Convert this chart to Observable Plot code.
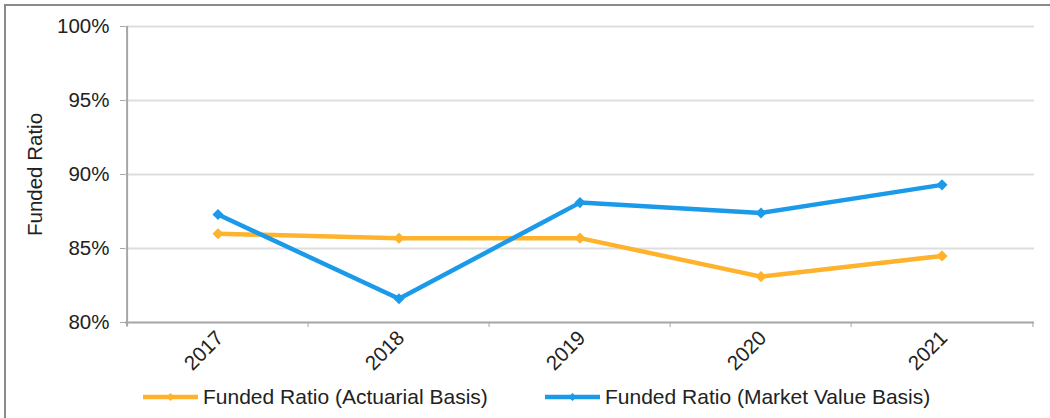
<!DOCTYPE html>
<html>
<head>
<meta charset="utf-8">
<script src="https://cdn.jsdelivr.net/npm/d3@7"></script>
<script src="https://cdn.jsdelivr.net/npm/@observablehq/plot@0.6"></script>
<style>
  html, body { margin: 0; padding: 0; background: #fff; }
  body { width: 1050px; height: 418px; overflow: hidden; position: relative; font-family: "Liberation Sans", Arial, sans-serif; }
  #frame { position: absolute; left: 4px; top: 4px; width: 1046px; height: 414px; border-left: 2px solid #8a8a8a; border-top: 2px solid #8a8a8a; box-sizing: border-box; pointer-events: none; }
  #chart { position: absolute; left: 0; top: 0; }
  #legend { position: absolute; left: 0; top: 383px; width: 1050px; height: 30px; font-size: 21px; color: #222; }
  .item { position: absolute; top: 0; display: flex; align-items: center; line-height: 28px; }
  .item svg { margin-right: 5px; }
</style>
</head>
<body>
<div id="chart"></div>
<div id="legend"></div>
<div id="frame"></div>
<script>
const years = ["2017", "2018", "2019", "2020", "2021"];
const actuarial = [86.0, 85.7, 85.7, 83.1, 84.5];
const market = [87.3, 81.6, 88.1, 87.4, 89.3];
const yTicks = [80, 85, 90, 95, 100];
const seriesNames = ["Funded Ratio (Actuarial Basis)", "Funded Ratio (Market Value Basis)"];
const seriesColors = ["#FFB22C", "#1B9AEA"];

const rows = [];
years.forEach((yr, i) => {
  rows.push({year: yr, value: actuarial[i], series: seriesNames[0]});
  rows.push({year: yr, value: market[i], series: seriesNames[1]});
});

const W = 1050, H = 380;
const mL = 125, mR = 16;
const bw = (W - mL - mR) / years.length;

const plot = Plot.plot({
  width: W,
  height: H,
  marginLeft: mL,
  marginRight: mR,
  marginTop: 26,
  marginBottom: 58,
  style: {fontFamily: "'Liberation Sans', Arial, sans-serif", fontSize: "20px", color: "#222", background: "transparent", overflow: "visible"},
  x: {type: "band", domain: years, padding: 0},
  y: {domain: [80, 100]},
  color: {domain: seriesNames, range: seriesColors},
  marks: [
    Plot.ruleY(yTicks.filter(d => d > 80), {stroke: "#dedede", strokeWidth: 2}),
    Plot.ruleY([80], {stroke: "#a6a6a6", strokeWidth: 2}),
    Plot.ruleX([years[0]], {dx: -bw / 2, stroke: "#a6a6a6", strokeWidth: 2, insetBottom: -4}),
    Plot.axisY(yTicks, {tickSize: 5, tickPadding: 11, stroke: "#a6a6a6", tickFormat: d => d + "%", fontSize: 20.5, label: null, color: "#222"}),
    Plot.axisX(years, {tickSize: 5, tickPadding: 0, dx: -bw / 2, stroke: "#a6a6a6", tickFormat: () => "", label: null}),
    Plot.axisX([years[years.length - 1]], {tickSize: 5, tickPadding: 0, dx: bw / 2, stroke: "#a6a6a6", tickFormat: () => "", label: null}),
    Plot.axisX(years, {tickSize: 0, tickPadding: 12, tickRotate: -45, fontSize: 20.5, label: null, dx: 2}),
    Plot.text(["Funded Ratio"], {frameAnchor: "left", dx: -90, rotate: -90, textAnchor: "middle", fontSize: 20.5, fill: "#222"}),
    Plot.line(rows, {x: "year", y: "value", z: "series", stroke: "series", strokeWidth: 4.5}),
    Plot.dot(rows, {x: "year", y: "value", fill: "series", symbol: "diamond2", r: 5})
  ]
});
document.getElementById("chart").appendChild(plot);

const legend = document.getElementById("legend");
const legendX = [143, 545];
seriesNames.forEach((name, i) => {
  const item = document.createElement("div");
  item.className = "item";
  item.style.left = legendX[i] + "px";
  item.innerHTML = `<svg width="55" height="14"><line x1="0" y1="7" x2="55" y2="7" stroke="${seriesColors[i]}" stroke-width="4.5"/><path d="M27.5,3 L31.5,7 L27.5,11 L23.5,7 Z" fill="${seriesColors[i]}"/></svg><span>${name}</span>`;
  legend.appendChild(item);
});
</script>
</body>
</html>
